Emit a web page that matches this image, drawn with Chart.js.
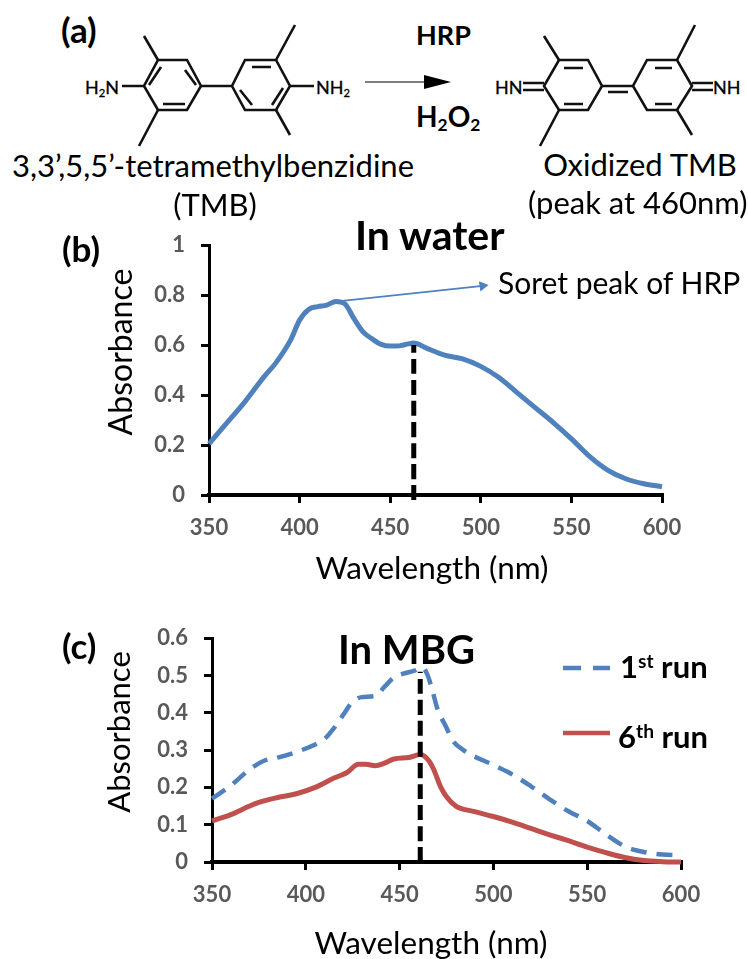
<!DOCTYPE html>
<html>
<head>
<meta charset="utf-8">
<script src="https://cdn.jsdelivr.net/npm/chart.js@4"></script>
<style>
html, body { margin: 0; padding: 0; background: #fff; }
body { position: relative; width: 748px; height: 959px; overflow: hidden; font-family: Lato, sans-serif; color: #000; }
canvas { position: absolute; left: 0; }
#scheme { position: absolute; left: 0; top: 0; }
.t { position: absolute; white-space: nowrap; line-height: 1; }
.b { font-weight: bold; }
.rot { transform: translate(-50%, -50%) rotate(-90deg); }
.c { transform: translate(-50%, 0); }
.f { -webkit-text-stroke: 0.3px #000; }
sup { font-size: 62%; line-height: 0; vertical-align: baseline; position: relative; top: -0.5em; }
sub { font-size: 62%; line-height: 0; vertical-align: baseline; position: relative; top: 0.25em; }
</style>
</head>
<body>
<!-- schema TMB -->
<svg id="scheme" width="748" height="225" stroke="#111" stroke-width="2.6" fill="none">
  <polygon points="158,60 187,60 201,86 187,110 158,110 144,86"/>
  <polygon points="245,60 276,60 290,86 276,110 245,110 232,86"/>
  <path d="M201 86H232M290 86H314M144 86H122M158 60L144 36M276 60L295 25M158 110L139 146M276 110L290 135"/>
  <path d="M161 67L149 85M185 70L196 85M163 104H185M252 67H271M240 90L252 105M283 88L272 105"/>
  <polygon points="559,60 588,60 602,86 588,110 559,110 544,86"/>
  <polygon points="647,60 677,60 692,86 677,110 647,110 633,86"/>
  <path d="M602 86H633M608 92H628M523 83H544M523 90H544M692 83H713M692 90H713"/>
  <path d="M559 60L544 36M677 60L695 25M559 110L540 146M677 110L692 135"/>
  <path d="M564 68H583M564 104H583M655 68H672M655 104H672"/>
  <path d="M365 82H430" stroke="#555" stroke-width="1.6"/>
  <polygon points="424,75 451,82 424,89" fill="#000" stroke="none"/>
</svg>
<canvas id="chartB" style="top:216px"></canvas>
<canvas id="chartC" style="top:609px"></canvas>

<div class="t b" style="left:61px;top:12px;font-size:35px">(a)</div>
<div class="t f" style="left:85px;top:78px;font-size:18px">H<sub>2</sub>N</div>
<div class="t f" style="left:316px;top:78px;font-size:18px">NH<sub>2</sub></div>
<div class="t f" style="left:495px;top:78px;font-size:18px">HN</div>
<div class="t f" style="left:713px;top:78px;font-size:18px">NH</div>
<div class="t b" style="left:416px;top:21px;font-size:27px">HRP</div>
<div class="t b" style="left:416px;top:102px;font-size:28px">H<sub>2</sub>O<sub>2</sub></div>
<div class="t" style="left:12px;top:150px;font-size:31px">3,3’,5,5’-tetramethylbenzidine</div>
<div class="t c" style="left:215px;top:189px;font-size:31px">(TMB)</div>
<div class="t c" style="left:640px;top:149px;font-size:31px">Oxidized TMB</div>
<div class="t" style="left:528px;top:187px;font-size:31px">(peak at 460nm)</div>

<div class="t b" style="left:62px;top:231px;font-size:35px">(b)</div>
<div class="t b" style="left:355px;top:214px;font-size:41px">In water</div>
<div class="t" style="left:498px;top:267px;font-size:30px">Soret peak of HRP</div>
<div class="t rot" style="left:120px;top:352px;font-size:32px">Absorbance</div>
<div class="t c" style="left:432px;top:552px;font-size:31.5px">Wavelength (nm)</div>

<div class="t b" style="left:62px;top:628px;font-size:35px">(c)</div>
<div class="t b" style="left:338px;top:629px;font-size:40px">In MBG</div>
<div class="t rot" style="left:118px;top:732px;font-size:31px">Absorbance</div>
<div class="t c" style="left:431px;top:927px;font-size:31.5px">Wavelength (nm)</div>
<svg style="position:absolute;left:560px;top:660px" width="54" height="84" fill="none" stroke-width="4.5">
  <path d="M3 8H50" stroke="#4f81bd" stroke-dasharray="18 12"/>
  <path d="M3 73H50" stroke="#c0504d"/>
</svg>
<div class="t b" style="left:620px;top:651px;font-size:31px">1<sup>st</sup> run</div>
<div class="t b" style="left:618px;top:721px;font-size:31px">6<sup>th</sup> run</div>

<script>
// dati
var waterX = [350,360,370,380,387,395,400,405,410,415,420,425,430,435,440,445,450,455,460,463,470,480,490,500,510,520,530,540,550,560,570,580,590,600];
var waterY = [0.205,0.29,0.375,0.47,0.53,0.62,0.70,0.743,0.754,0.76,0.775,0.765,0.706,0.653,0.625,0.603,0.596,0.597,0.605,0.608,0.588,0.56,0.545,0.515,0.47,0.41,0.35,0.29,0.225,0.155,0.10,0.065,0.045,0.033];
var run1X = [350,360,370,378,385,395,405,410,415,420,425,430,437,442,447,452,458,462,465,468,470,475,478,484,500,510,520,530,540,550,560,570,580,590,600];
var run1Y = [0.17,0.205,0.248,0.272,0.28,0.295,0.315,0.33,0.359,0.395,0.43,0.442,0.445,0.47,0.495,0.505,0.513,0.522,0.50,0.45,0.413,0.36,0.328,0.30,0.26,0.235,0.203,0.168,0.136,0.11,0.074,0.042,0.027,0.02,0.018];
var run6X = [350,360,370,375,385,395,405,415,422,428,432,437,442,447,455,461,465,468,472,475,480,490,500,510,520,530,540,550,560,570,580,590,600];
var run6Y = [0.11,0.127,0.15,0.16,0.173,0.183,0.2,0.225,0.24,0.262,0.262,0.258,0.265,0.276,0.28,0.288,0.275,0.25,0.2,0.175,0.15,0.135,0.122,0.107,0.09,0.073,0.057,0.04,0.025,0.012,0.004,0.001,0];
var peakWaterX = [463,463];
var peakWaterY = [-0.02,0.6];
var peakMbgX = [461,461];
var peakMbgY = [0,0.51];
var soretX = [421,501];
var soretY = [0.775,0.837];
var xTicks = [350,400,450,500,550,600];

var BLUE = '#4f81bd', RED = '#c0504d';
var TICK_FONT = { family: 'Lato', size: 22, weight: 'bold' };

function pts(xs, ys) {
  return xs.map(function(x, i) { return { x: x, y: ys[i] }; });
}

function curve(xs, ys, color, width, dash) {
  return {
    data: pts(xs, ys), borderColor: color, borderWidth: width, borderDash: dash || [],
    pointRadius: 0, cubicInterpolationMode: 'monotone', clip: false
  };
}

function makeChart(id, w, h, pad, leftW, bottomH, yMax, yStep, datasets) {
  var el = document.getElementById(id);
  el.width = w; el.height = h;
  el.style.width = w + 'px'; el.style.height = h + 'px';
  return new Chart(el, {
    type: 'line',
    data: { datasets: datasets },
    options: {
      responsive: false, animation: false,
      layout: { padding: { top: pad.top, right: pad.right, left: 0, bottom: 0 } },
      plugins: { legend: { display: false }, tooltip: { enabled: false } },
      scales: {
        x: {
          type: 'linear', min: 350, max: 600,
          afterBuildTicks: function(s) { s.ticks = xTicks.map(function(v) { return { value: v }; }); },
          afterFit: function(s) { s.height = bottomH; },
          grid: { drawOnChartArea: false, color: '#000', lineWidth: 3, tickLength: 8 },
          border: { color: '#000', width: 4 },
          ticks: { color: '#595959', font: TICK_FONT, padding: 12, maxRotation: 0 }
        },
        y: {
          min: 0, max: yMax,
          afterFit: function(s) { s.width = leftW; },
          grid: { drawOnChartArea: false, color: '#000', lineWidth: 3, tickLength: 8 },
          border: { color: '#000', width: 3 },
          ticks: {
            color: '#595959', font: TICK_FONT, stepSize: yStep, padding: 16,
            callback: function(v) { return String(Math.round(v * 10) / 10); }
          }
        }
      }
    }
  });
}

var soret = curve(soretX, soretY, BLUE, 1.6);
soret.pointRadius = [0, 6];
soret.pointStyle = 'triangle';
soret.rotation = 82;
soret.pointBackgroundColor = BLUE;
soret.pointBorderWidth = 0;

makeChart('chartB', 748, 374, { top: 27, right: 86 }, 209, 95, 1, 0.2, [
  curve(peakWaterX, peakWaterY, '#000', 5, [15, 6]),
  soret,
  curve(waterX, waterY, BLUE, 5)
]);

makeChart('chartC', 748, 350, { top: 27, right: 67 }, 212, 97, 0.6, 0.1, [
  curve(peakMbgX, peakMbgY, '#000', 5, [15, 6]),
  curve(run1X, run1Y, BLUE, 4.5, [16, 10]),
  curve(run6X, run6Y, RED, 5)
]);
</script>
</body>
</html>
